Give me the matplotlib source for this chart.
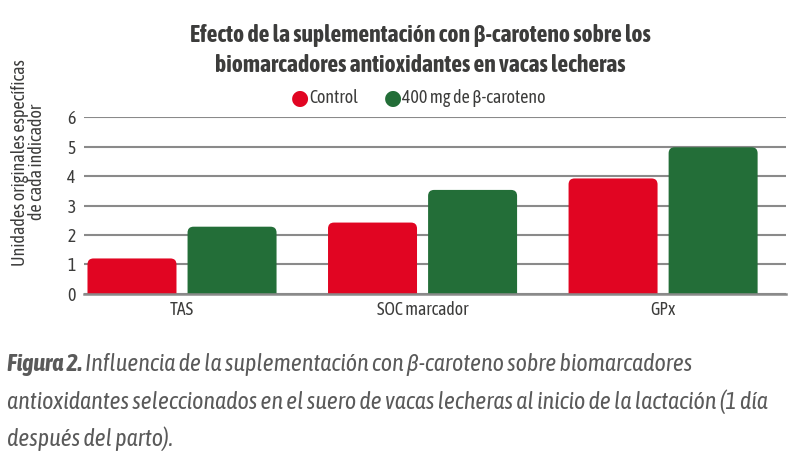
import matplotlib
matplotlib.use("Agg")
import matplotlib.pyplot as plt
from matplotlib.patches import FancyBboxPatch
import numpy as np

# datos
categorias = ["TAS", "SOC marcador", "GPx"]
control = [1.20, 2.42, 3.92]
beta = [2.28, 3.53, 4.98]
serie_nombres = ["Control", "400 mg de β-caroteno"]
yticks = [0, 1, 2, 3, 4, 5, 6]

rojo = "#E10522"
verde = "#236E38"
texto = "#3C3C3B"
gris = "#8A8A8A"

plt.rcParams["font.family"] = ["Asap Condensed", "Roboto Condensed", "DejaVu Sans"]

fig = plt.figure(figsize=(8, 4.7), dpi=100)
ax = fig.add_axes([0.105, 0.375, 0.8775, 0.3755])

x = np.arange(len(categorias))
ancho = 0.37
sep = 0.208
b1 = ax.bar(x - sep, control, ancho, color=rojo)
b2 = ax.bar(x + sep, beta, ancho, color=verde)

ax.set_xlim(-0.4075, 2.511)
ax.set_ylim(0, 6)

# barras con esquinas superiores redondeadas
fig.canvas.draw()
bb = ax.get_window_extent()
px_x = bb.width / (ax.get_xlim()[1] - ax.get_xlim()[0])
px_y = bb.height / (ax.get_ylim()[1] - ax.get_ylim()[0])
aspecto = px_x / px_y
radio = 6 / px_x
for barras, col in [(b1, rojo), (b2, verde)]:
    for r in barras:
        x0, w, h = r.get_x(), r.get_width(), r.get_height()
        r.remove()
        p = FancyBboxPatch((x0, -0.6), w, h + 0.6,
                           boxstyle=f"round,pad=0,rounding_size={radio}",
                           mutation_aspect=aspecto, fc=col, ec="none",
                           zorder=3)
        ax.add_patch(p)

ax.set_yticks(yticks)
ax.set_xticks(x)
ax.set_xticklabels(categorias)
ax.tick_params(length=0, labelsize=12.8, colors=texto, pad=6)
ax.tick_params(axis="x", pad=5)
ax.grid(axis="y", color=gris, lw=1.5, zorder=0)
ax.set_axisbelow(True)
for s in ["top", "right", "left"]:
    ax.spines[s].set_visible(False)
ax.spines["bottom"].set_color(gris)
ax.spines["bottom"].set_linewidth(1.8)
ax.spines["bottom"].set_zorder(4)

ax.set_ylabel("Unidades originales específicas\nde cada indicador",
              fontsize=13, color=texto, linespacing=0.95)
ax.yaxis.set_label_coords(-0.054, 0.745)

fig.text(0.525, 0.924, "Efecto de la suplementación con β-caroteno sobre los",
         ha="center", va="center", fontsize=17, fontweight="bold", color=texto)
fig.text(0.525, 0.86, "biomarcadores antioxidantes en vacas lecheras",
         ha="center", va="center", fontsize=17, fontweight="bold", color=texto)

# leyenda
fig.text(0.375, 0.792, "●", color=rojo, fontsize=15, ha="center", va="center",
         family="DejaVu Sans")
fig.text(0.386, 0.792, serie_nombres[0], color=texto, fontsize=13, va="center")
fig.text(0.491, 0.792, "●", color=verde, fontsize=15, ha="center", va="center",
         family="DejaVu Sans")
fig.text(0.503, 0.792, serie_nombres[1], color=texto, fontsize=13, va="center")

# pie de figura
cap = "#5A5A5A"
fs = 17.3
t0 = fig.text(0.009, 0.224, "Figura 2.", fontsize=fs, fontweight="bold",
              style="italic", color=cap, va="center")
fig.canvas.draw()
x1 = t0.get_window_extent().x1 / fig.bbox.width + 0.004
fig.text(x1, 0.224,
         "Influencia de la suplementación con β-caroteno sobre biomarcadores",
         fontsize=fs, style="italic", color=cap, va="center")
fig.text(0.009, 0.145,
         "antioxidantes seleccionados en el suero de vacas lecheras al inicio de la lactación (1 día",
         fontsize=fs, style="italic", color=cap, va="center")
fig.text(0.009, 0.066, "después del parto).",
         fontsize=fs, style="italic", color=cap, va="center")

fig.savefig("out.png", dpi=100)
